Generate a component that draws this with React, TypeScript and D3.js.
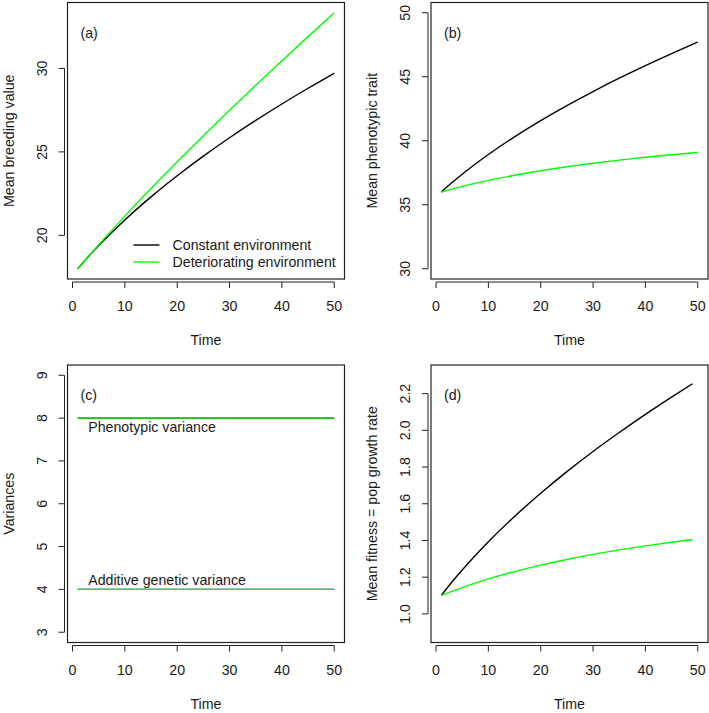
import React from "react";
import * as d3 from "d3";

const TIME_AB = [1, 3, 5, 10, 15, 20, 25, 30, 35, 40, 45, 50];
const BV_CONST = [18.0, 18.716, 19.388, 20.926, 22.307, 23.572, 24.746, 25.845, 26.884, 27.87, 28.811, 29.713];
const BV_DET = [18.0, 18.724, 19.433, 21.153, 22.803, 24.404, 25.964, 27.49, 28.986, 30.456, 31.904, 33.335];
const PHEN_CONST = [36.0, 36.716, 37.388, 38.926, 40.307, 41.572, 42.746, 43.845, 44.884, 45.87, 46.811, 47.713];
const PHEN_DET = [36.0, 36.224, 36.433, 36.903, 37.303, 37.654, 37.964, 38.24, 38.486, 38.706, 38.904, 39.085];
const TIME_C = [1, 50];
const VAR_P = [8, 8];
const VAR_A = [4, 4];
const TIME_D = [1, 3, 5, 10, 15, 20, 25, 30, 35, 40, 45, 49];
const FIT_CONST = [1.1, 1.172, 1.239, 1.393, 1.531, 1.657, 1.775, 1.885, 1.988, 2.087, 2.181, 2.254];
const FIT_DET = [1.1, 1.1224, 1.1433, 1.1903, 1.2303, 1.2654, 1.2964, 1.324, 1.3486, 1.3706, 1.3904, 1.4049];

const X_TICKS = [0, 10, 20, 30, 40, 50];
const Y_TICKS_A = [20, 25, 30];
const Y_TICKS_B = [30, 35, 40, 45, 50];
const Y_TICKS_C = [3, 4, 5, 6, 7, 8, 9];
const Y_TICKS_D = [1.0, 1.2, 1.4, 1.6, 1.8, 2.0, 2.2];

const LEGEND = ["Constant environment", "Deteriorating environment"];
const COLORS = ["#000000", "#00ff00"];
const FONT = "Liberation Sans, Arial, Helvetica, sans-serif";

type Series = { t: number[]; v: number[]; color: string };
type PanelProps = {
  box: { x0: number; x1: number; y0: number; y1: number };
  ylim: [number, number];
  yTicks: number[];
  yFmt: (v: number) => string;
  ylab: string;
  tag: string;
  series: Series[];
  legend?: boolean;
  notes?: { x: number; y: number; text: string }[];
};

function expand(lo: number, hi: number): [number, number] {
  const r = (hi - lo) * 0.04;
  return [lo - r, hi + r];
}

function Panel(p: PanelProps) {
  const { box } = p;
  const x = d3.scaleLinear().domain(expand(1, 50)).range([box.x0, box.x1]);
  const y = d3.scaleLinear().domain(expand(p.ylim[0], p.ylim[1])).range([box.y1, box.y0]);
  const line = d3
    .line<[number, number]>()
    .x((d) => x(d[0]))
    .y((d) => y(d[1]))
    .curve(d3.curveMonotoneX);
  const axY = box.y1 + 3;
  const axX = box.x0 - 3;
  const fs = 14.2;
  return (
    <g fontFamily={FONT} fontSize={fs} fill="#1a1a1a">
      {p.series.map((s, i) => (
        <path
          key={i}
          d={line(s.t.map((t, j) => [t, s.v[j]] as [number, number])) || ""}
          fill="none"
          stroke={s.color}
          strokeWidth={1.4}
        />
      ))}
      <rect x={box.x0} y={box.y0} width={box.x1 - box.x0} height={box.y1 - box.y0} fill="none" stroke="#222" strokeWidth={1.2} />
      <line x1={x(X_TICKS[0])} x2={x(X_TICKS[X_TICKS.length - 1])} y1={axY} y2={axY} stroke="#222" strokeWidth={1} />
      {X_TICKS.map((t) => (
        <g key={t}>
          <line x1={x(t)} x2={x(t)} y1={axY} y2={axY + 6} stroke="#222" strokeWidth={1} />
          <text x={x(t)} y={box.y1 + 27} textAnchor="middle" dominantBaseline="central">
            {t}
          </text>
        </g>
      ))}
      <text x={(box.x0 + box.x1) / 2} y={box.y1 + 61} textAnchor="middle" dominantBaseline="central">
        Time
      </text>
      <line x1={axX} x2={axX} y1={y(p.yTicks[0])} y2={y(p.yTicks[p.yTicks.length - 1])} stroke="#222" strokeWidth={1} />
      {p.yTicks.map((t) => (
        <g key={t}>
          <line x1={axX} x2={axX - 6} y1={y(t)} y2={y(t)} stroke="#222" strokeWidth={1} />
          <text
            transform={`translate(${box.x0 - 26},${y(t)}) rotate(-90)`}
            textAnchor="middle"
            dominantBaseline="central"
          >
            {p.yFmt(t)}
          </text>
        </g>
      ))}
      <text
        transform={`translate(${box.x0 - 59},${(box.y0 + box.y1) / 2}) rotate(-90)`}
        textAnchor="middle"
        dominantBaseline="central"
      >
        {p.ylab}
      </text>
      <text x={box.x0 + 13} y={box.y0 + 30} dominantBaseline="central">
        {p.tag}
      </text>
      {p.notes &&
        p.notes.map((n, i) => (
          <text key={i} x={x(n.x)} y={y(n.y)} dominantBaseline="central">
            {n.text}
          </text>
        ))}
      {p.legend &&
        LEGEND.map((lab, i) => (
          <g key={lab}>
            <line
              x1={box.x0 + 66}
              x2={box.x0 + 92}
              y1={box.y1 - 34 + i * 17}
              y2={box.y1 - 34 + i * 17}
              stroke={COLORS[i]}
              strokeWidth={1.4}
            />
            <text x={box.x0 + 105} y={box.y1 - 34 + i * 17} dominantBaseline="central">
              {lab}
            </text>
          </g>
        ))}
    </g>
  );
}

export default function App() {
  const top = { y0: 2.5, y1: 279 };
  const bot = { y0: 365, y1: 642.5 };
  const left = { x0: 67.5, x1: 344.5 };
  const right = { x0: 431, x1: 708 };
  const f0 = (v: number) => d3.format("d")(v);
  const f1 = (v: number) => d3.format(".1f")(v);
  return (
    <svg width={709} height={713} style={{ position: "absolute", left: 0, top: 0, background: "#fff" }}>
      <rect x={0} y={0} width={709} height={713} fill="#fff" />
      <Panel
        box={{ ...left, ...top }}
        ylim={[18, 33.335]}
        yTicks={Y_TICKS_A}
        yFmt={f0}
        ylab="Mean breeding value"
        tag="(a)"
        legend
        series={[
          { t: TIME_AB, v: BV_CONST, color: COLORS[0] },
          { t: TIME_AB, v: BV_DET, color: COLORS[1] },
        ]}
      />
      <Panel
        box={{ ...right, ...top }}
        ylim={[30, 50]}
        yTicks={Y_TICKS_B}
        yFmt={f0}
        ylab="Mean phenotypic trait"
        tag="(b)"
        series={[
          { t: TIME_AB, v: PHEN_CONST, color: COLORS[0] },
          { t: TIME_AB, v: PHEN_DET, color: COLORS[1] },
        ]}
      />
      <Panel
        box={{ ...left, ...bot }}
        ylim={[3, 9]}
        yTicks={Y_TICKS_C}
        yFmt={f0}
        ylab="Variances"
        tag="(c)"
        notes={[
          { x: 3, y: 7.8, text: "Phenotypic variance" },
          { x: 3, y: 4.22, text: "Additive genetic variance" },
        ]}
        series={[
          { t: TIME_C, v: VAR_P, color: COLORS[0] },
          { t: TIME_C, v: VAR_A, color: COLORS[0] },
          { t: TIME_C, v: VAR_P, color: COLORS[1] },
          { t: TIME_C, v: VAR_A, color: COLORS[1] },
        ]}
      />
      <Panel
        box={{ ...right, ...bot }}
        ylim={[0.9, 2.3]}
        yTicks={Y_TICKS_D}
        yFmt={f1}
        ylab="Mean fitness = pop growth rate"
        tag="(d)"
        series={[
          { t: TIME_D, v: FIT_CONST, color: COLORS[0] },
          { t: TIME_D, v: FIT_DET, color: COLORS[1] },
        ]}
      />
    </svg>
  );
}
